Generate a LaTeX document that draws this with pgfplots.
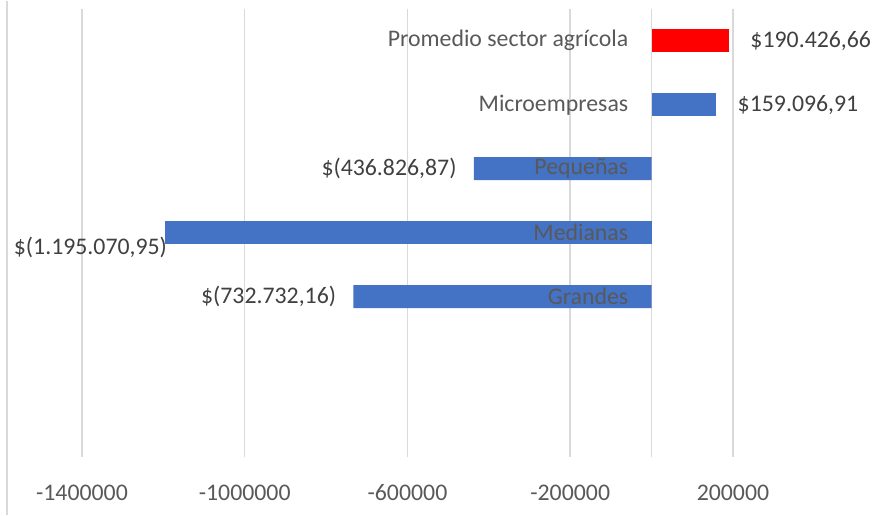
\documentclass[border=0pt]{standalone}
\usepackage{fontspec}
\setmainfont{Carlito}
\usepackage{pgfplots}
\usepackage{pgfplotstable}
\pgfplotsset{compat=1.18}
\definecolor{barblue}{HTML}{4472C4}
\definecolor{barred}{HTML}{FF0000}
\definecolor{gridgray}{HTML}{D9D9D9}
\definecolor{txtgray}{HTML}{595959}
\definecolor{lblgray}{HTML}{404040}

\pgfplotstableread{
y x lab
1 190426.66 190.426,66
}\tprom
\pgfplotstableread{
y x lab
2 159096.91 159.096,91
}\tpos
\pgfplotstableread{
y x lab
3 -436826.87 (436.826,87)
5 -732732.16 (732.732,16)
}\tneg
\pgfplotstableread{
y x lab
4 -1195070.95 (1.195.070,95)
}\tmed
\pgfplotstableread[col sep=semicolon]{
y;x;cat
1;0;Promedio sector agrícola
2;0;Microempresas
3;0;Pequeñas
4;0;Medianas
5;0;Grandes
}\tcat

\newcommand{\chartfont}{\fontsize{11.9}{14}\selectfont}

\begin{document}
\begin{tikzpicture}
\begin{axis}[
  scale only axis, width=439.5pt, height=224pt,
  xmin=-1601400, xmax=558860, ymin=0.5, ymax=7.5, y dir=reverse,
  axis line style={draw=none},
  xbar, bar width=11.5pt, bar shift=0pt,
  scaled x ticks=false,
  xtick={-1400000,-1000000,-600000,-200000,200000},
  xticklabels={-1400000,-1000000,-600000,-200000,200000},
  extra x ticks={0}, extra x tick labels={},
  extra x tick style={grid=major},
  xmajorgrids,
  grid style={gridgray, line width=0.75pt},
  major tick length=0pt,
  xticklabel style={anchor=base, yshift=-22pt, text=txtgray, font=\chartfont},
  ytick=\empty,
  clip=false,
  point meta=explicit symbolic,
  nodes near coords={\$\pgfplotspointmeta},
  every node near coord/.append style={font=\chartfont, text=lblgray, inner sep=0pt},
]
\addplot[fill=barred, draw=none, every node near coord/.append style={anchor=west, xshift=10.5pt}]
  table[x=x, y=y, meta=lab] {\tprom};
\addplot[fill=barblue, draw=none, every node near coord/.append style={anchor=west, xshift=10.5pt}]
  table[x=x, y=y, meta=lab] {\tpos};
\addplot[fill=barblue, draw=none, every node near coord/.append style={anchor=east, xshift=-8.5pt}]
  table[x=x, y=y, meta=lab] {\tneg};
\addplot[fill=barblue, draw=none, every node near coord/.append style={anchor=east, xshift=1pt, yshift=-7.5pt}]
  table[x=x, y=y, meta=lab] {\tmed};
\addplot[only marks, mark=none, draw=none,
  nodes near coords={\pgfplotspointmeta},
  every node near coord/.append style={anchor=east, xshift=-11.5pt, text=txtgray}]
  table[x=x, y=y, meta=cat] {\tcat};
\draw[gridgray, line width=0.75pt] (axis cs:-1584200,0.375) -- (axis cs:-1584200,8.406);
\path (axis cs:-1601400,0.375) rectangle (axis cs:558860,8.406);
\end{axis}
\end{tikzpicture}
\end{document}
